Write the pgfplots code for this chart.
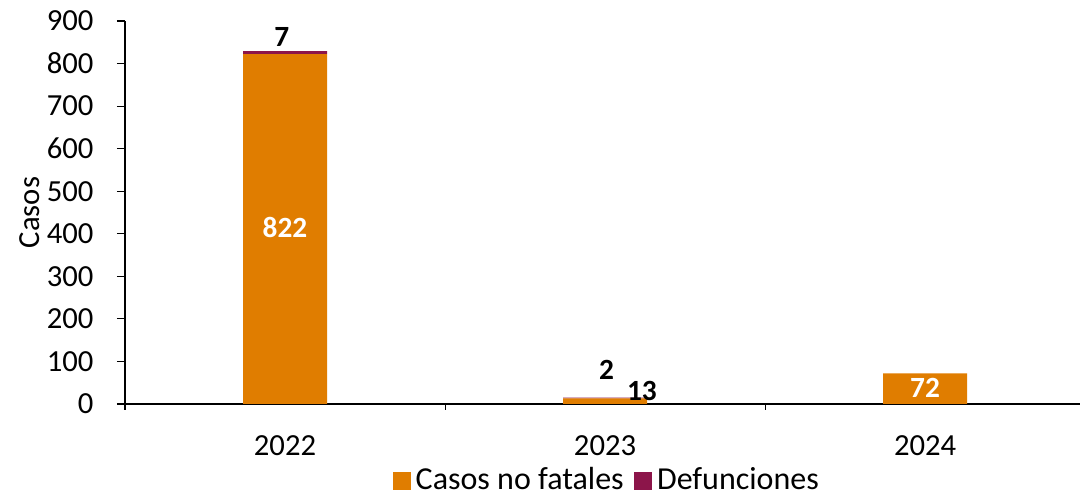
\documentclass[border=0pt]{standalone}
\usepackage{pgfplots}
\pgfplotsset{compat=1.18}
\usepackage{fontspec}
\setmainfont{Carlito}
\definecolor{cnf}{RGB}{224,125,0}
\definecolor{dfc}{RGB}{140,21,74}
\begin{document}
\fontsize{23}{27}\selectfont
\begin{tikzpicture}
\begin{axis}[
 scale only axis, width=716.25pt, height=287.25pt,
 ybar stacked, bar width=63pt,
 xmin=-0.5, xmax=2.484, ymin=0, ymax=900,
 axis lines=left, axis line style={-, black, line width=0.8pt},
 xtick={0,1,2}, xticklabels={2022,2023,2024},
 major x tick style={draw=none},
 minor xtick={-0.5,0.5,1.5},
 ytick={0,100,...,900},
 tick align=outside, major tick length=6pt, minor tick length=4.5pt,
 tick style={black, line width=0.8pt},
 /pgf/number format/assume math mode=true,
 ticklabel style={font=\fontsize{23}{27}\selectfont},
 yticklabel style={anchor=east, inner sep=0pt, xshift=-17.5pt},
 xticklabel style={anchor=center, inner sep=0pt, yshift=-25pt},
 ylabel={Casos},
 ylabel style={at={(axis description cs:-0.0995,0.5)}, anchor=center, font=\fontsize{23}{27}\selectfont},
 legend columns=2,
 legend style={draw=none, fill=none, at={(axis description cs:0.505,-0.201)}, anchor=center,
   font=\fontsize{24}{28}\selectfont,
   /tikz/every odd column/.append style={column sep=1.5pt},
   /tikz/every even column/.append style={column sep=6pt},
   inner sep=0pt},
 legend image code/.code={\path[#1] (0pt,-6.75pt) rectangle (13.5pt,6.75pt);},
]
\addplot[fill=cnf, draw=none] coordinates {(0,822) (1,13) (2,72)};
\addlegendentry{Casos no fatales}
\addplot[fill=dfc, draw=none] coordinates {(0,7) (1,2) (2,0)};
\addlegendentry{Defunciones}
\coordinate (O) at (rel axis cs:0,0);
\coordinate (L1) at (axis cs:0,414);
\coordinate (L2) at (axis cs:-0.01,862);
\coordinate (L3) at (axis cs:1.005,80);
\coordinate (L4) at (axis cs:1.115,30);
\coordinate (L5) at (axis cs:2,37);
\end{axis}
\begin{scope}[every node/.style={font=\fontsize{22}{26}\selectfont\bfseries}]
\node[text=white] at (L1) {822};
\node at (L2) {7};
\node at (L3) {2};
\node at (L4) {13};
\node[text=white] at (L5) {72};
\end{scope}
\pgfresetboundingbox
\path[use as bounding box] (O) ++(-93.75pt,-68.25pt) rectangle ++(810.75pt,371.25pt);
\end{tikzpicture}
\end{document}
